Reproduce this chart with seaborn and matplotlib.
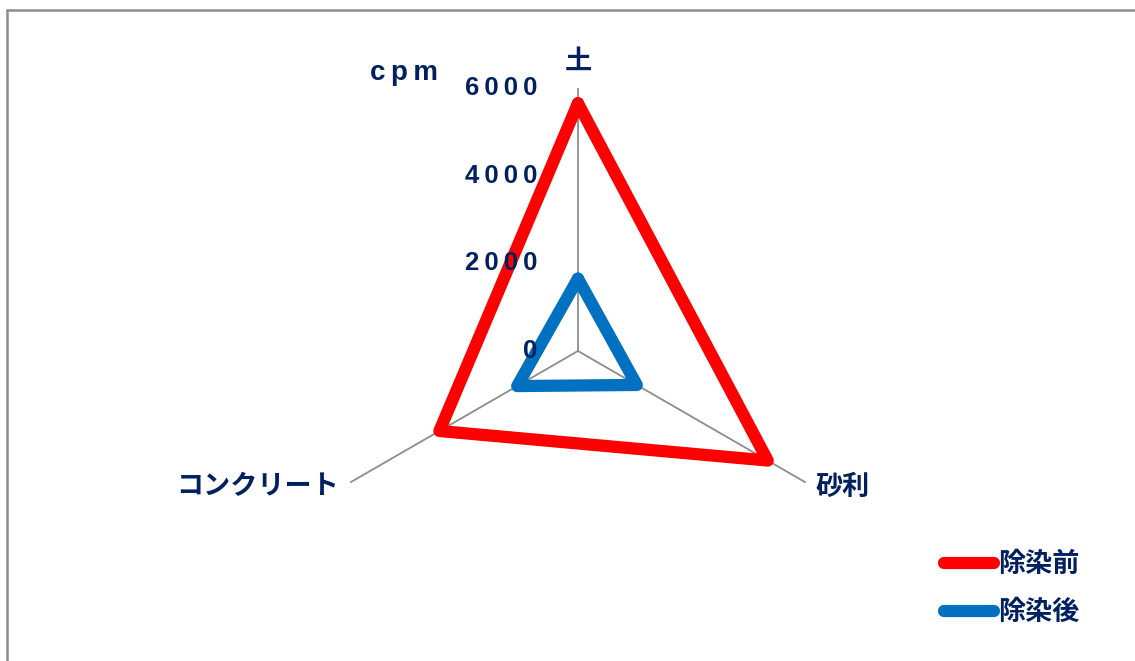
import numpy as np
import pandas as pd
import matplotlib
matplotlib.use("Agg")
import matplotlib.pyplot as plt
import matplotlib.transforms as mtransforms
from matplotlib.lines import Line2D
import seaborn as sns

# daten
kategorien = ["土", "砂利", "コンクリート"]
vor_dekon = [5650, 5000, 3650]   # 除染前
nach_dekon = [1650, 1550, 1600]  # 除染後
serien = ["除染前", "除染後"]
r_ticks = [0, 2000, 4000, 6000]
r_max = 6000

navy = "#002060"
farben = {"除染前": "#FF0000", "除染後": "#0070C0"}
grau = "#8C8C8C"

sns.set_theme(style="white")
plt.rcParams["font.family"] = ["Noto Sans CJK JP", "DejaVu Sans"]

# winkel für die achsen, polygon schließen
theta = np.linspace(0, 2 * np.pi, len(kategorien), endpoint=False)
theta_zu = np.append(theta, 2 * np.pi)

df = pd.concat([
    pd.DataFrame({"theta": theta_zu, "wert": vor_dekon + vor_dekon[:1], "serie": serien[0]}),
    pd.DataFrame({"theta": theta_zu, "wert": nach_dekon + nach_dekon[:1], "serie": serien[1]}),
])

fig = plt.figure(figsize=(11.35, 6.61), dpi=100)
ax = fig.add_axes([0.2775, 0.0711, 0.4634, 0.7958], projection="polar")
ax.set_theta_zero_location("N")
ax.set_theta_direction(-1)

sns.lineplot(data=df, x="theta", y="wert", hue="serie", palette=farben, sort=False,
             estimator=None, units="serie", linewidth=8.8, ax=ax, legend=False,
             solid_joinstyle="round", solid_capstyle="round", zorder=3)

ax.set_ylim(0, r_max)
ax.set_xticks(theta)
ax.set_xticklabels([])
ax.set_yticks(r_ticks)
ax.set_yticklabels([])
ax.yaxis.grid(False)
ax.xaxis.grid(True, color=grau, linewidth=1.3)
ax.spines["polar"].set_visible(False)
ax.set_xlabel("")
ax.set_ylabel("")
ax.tick_params(length=0)


def versatz(dx, dy):
    return ax.transData + mtransforms.ScaledTranslation(dx / 100, dy / 100, fig.dpi_scale_trans)


# radiale beschriftung links von der oberen achse
for v in r_ticks:
    txt = "\u2009".join(str(v))
    ax.text(0, v, txt, transform=versatz(-41, 0), ha="right", va="center",
            fontsize=18.5, fontweight="bold", color=navy,
            family=["Liberation Sans", "DejaVu Sans"])

# kategorien
ausrichtung = [("center", "bottom", 0, 13), ("left", "center", 10, -4), ("right", "center", -11, -4)]
for t, lab, (ha, va, dx, dy) in zip(theta, kategorien, ausrichtung):
    ax.text(t, r_max, lab, transform=versatz(dx, dy), ha=ha, va=va,
            fontsize=19.5, fontweight="bold", color=navy)

fig.text(404 / 1135, 1 - 73 / 661, "c\u2009p\u2009m", ha="center", va="center",
         fontsize=20, fontweight="bold", color=navy, family=["Liberation Sans", "DejaVu Sans"])

# legende
handles = [Line2D([0], [0], color=farben[s], linewidth=8.8, solid_capstyle="round") for s in serien]
leg = fig.legend(handles, serien, loc="upper left", bbox_to_anchor=(944 / 1135, 1 - 550 / 661),
                 frameon=False, handlelength=1.85, handletextpad=0.15, borderpad=0,
                 borderaxespad=0, labelspacing=0.75, prop={"size": 19.5, "weight": "bold"})
for t in leg.get_texts():
    t.set_color(navy)

# rahmen oben und links
fig.add_artist(Line2D([7 / 1135, 1], [1 - 10 / 661, 1 - 10 / 661], transform=fig.transFigure, color=grau, linewidth=1.8))
fig.add_artist(Line2D([7 / 1135, 7 / 1135], [0, 1 - 10 / 661], transform=fig.transFigure, color=grau, linewidth=1.8))

plt.savefig("out.png", dpi=100)
